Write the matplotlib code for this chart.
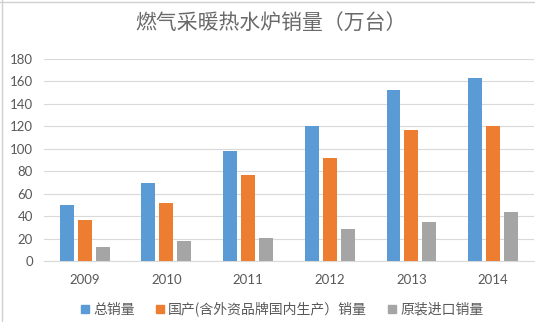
import matplotlib
matplotlib.use("Agg")
import matplotlib.pyplot as plt
import numpy as np
from matplotlib.lines import Line2D

plt.rcParams['font.family'] = ['Noto Sans CJK SC', 'DejaVu Sans']

years = ["2009", "2010", "2011", "2012", "2013", "2014"]
total_sales = [50, 70, 98, 120, 152, 163]
domestic_sales = [37, 52, 77, 92, 117, 120]
import_sales = [13, 18, 21, 29, 35, 44]
series_names = ["总销量", "国产(含外资品牌国内生产）销量", "原装进口销量"]
colors = ["#5B9BD5", "#ED7D31", "#A5A5A5"]
title = "燃气采暖热水炉销量（万台）"

fig = plt.figure(figsize=(5.35, 3.22), dpi=100)
ax = fig.add_axes([0.082, 0.189, 0.916, 0.628])

x = np.arange(len(years))
w = 0.17
step = 0.22
for i, (vals, c, name) in enumerate(zip([total_sales, domestic_sales, import_sales], colors, series_names)):
    ax.bar(x + (i - 1) * step, vals, width=w, color=c, label=name, zorder=3)

ax.set_xlim(-0.5, len(years) - 0.5)
ax.set_ylim(0, 180)
ax.set_yticks(np.arange(0, 181, 20))
ax.yaxis.grid(True, color="#d9d9d9", linewidth=0.8, zorder=0)
for s in ["top", "right", "left"]:
    ax.spines[s].set_visible(False)
ax.spines["bottom"].set_color("#d9d9d9")
ax.spines["bottom"].set_linewidth(0.8)
ax.set_xticks(x)
ax.set_xticklabels(years)
ax.tick_params(axis="both", length=0, colors="#595959", labelsize=9.5)
ax.tick_params(axis="y", pad=8)
ax.tick_params(axis="x", pad=9)
for lab in ax.get_xticklabels() + ax.get_yticklabels():
    lab.set_family(['Lato', 'DejaVu Sans'])

fig.text(0.506, 0.925, title, ha="center", va="center", fontsize=15,
         color="#6a6a6a", fontweight="light")

handles = [Line2D([0], [0], marker="s", linestyle="none", markersize=6,
                  markerfacecolor=c, markeredgecolor=c) for c in colors]
fig.legend(handles, series_names, loc="center", bbox_to_anchor=(0.525, 0.04),
           ncol=3, frameon=False, fontsize=10, labelcolor="#595959",
           handletextpad=0.1, columnspacing=1.3, handlelength=1.0)

# border lines at top and left
fig.add_artist(Line2D([0, 1], [0.994, 0.994], transform=fig.transFigure, color="#d0d0d0", linewidth=1))
fig.add_artist(Line2D([0.004, 0.004], [0, 1], transform=fig.transFigure, color="#d0d0d0", linewidth=1))

fig.savefig("out.png", dpi=100, facecolor="white")
